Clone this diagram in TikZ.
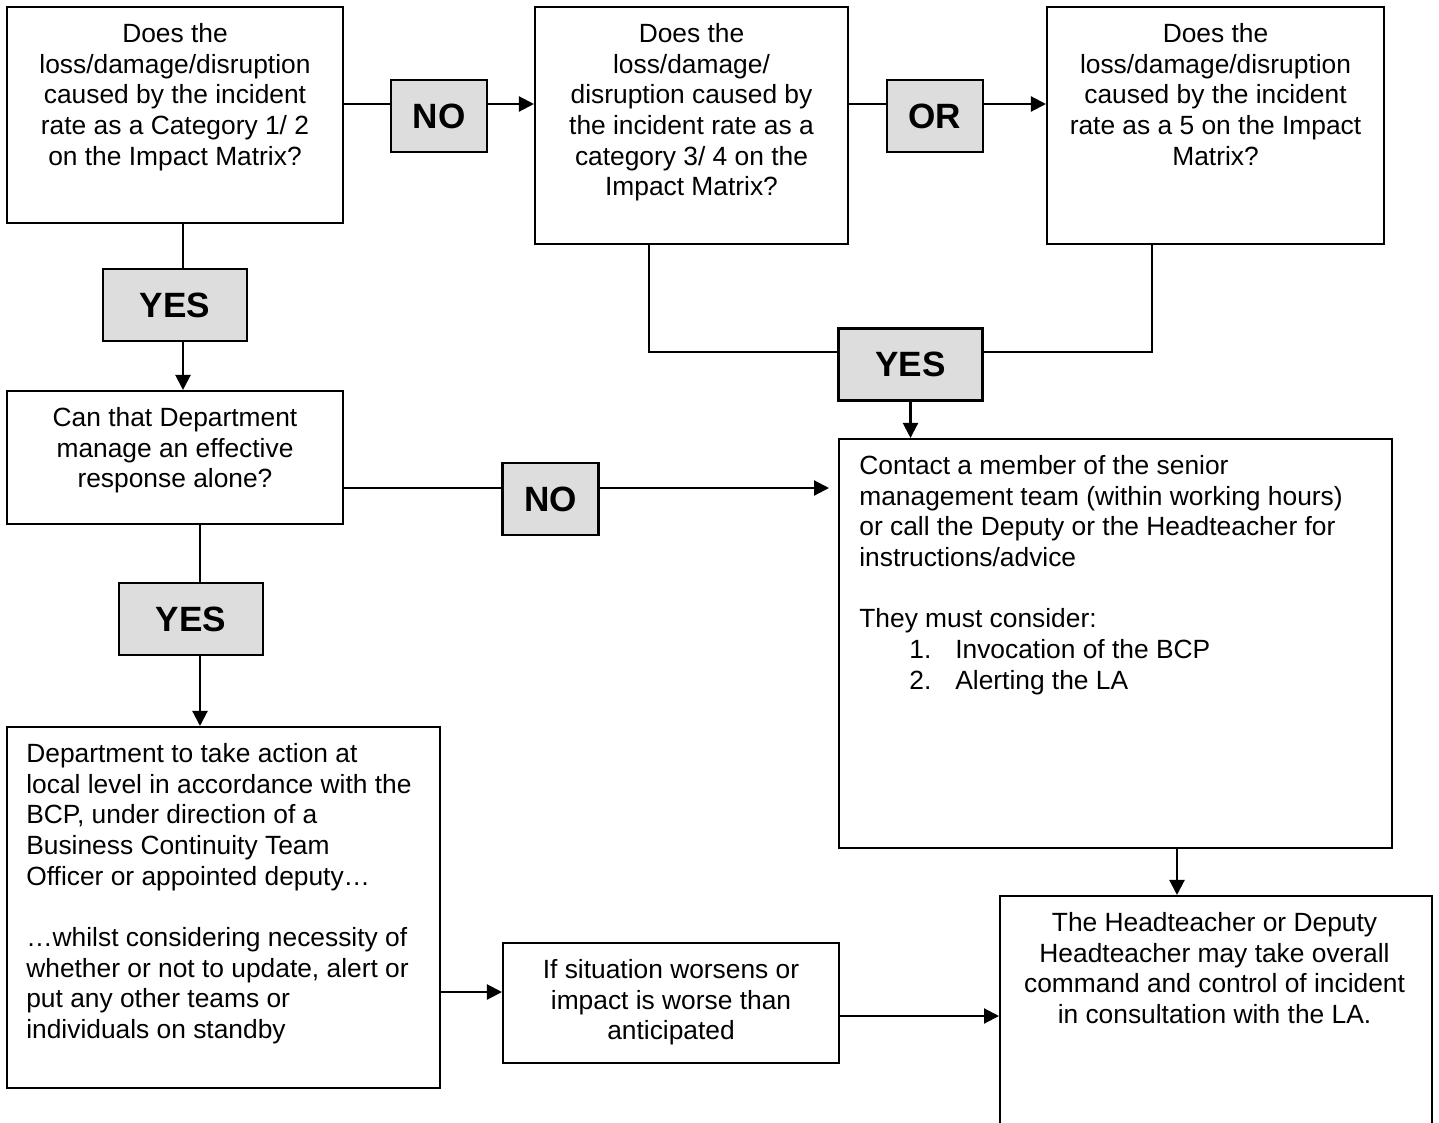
\documentclass[tikz,border=0pt]{standalone}
\usepackage{fontspec}
\setmainfont{Liberation Sans}
\usetikzlibrary{arrows.meta}
\definecolor{answergray}{HTML}{DDDDDD}

\begin{document}
\begin{tikzpicture}[x=0.02cm,y=-0.02cm,
  box/.style={draw, line width=1.2pt, inner sep=0pt},
  answer/.style={draw, fill=answergray, line width=1.2pt, minimum height=1.44cm,
    font=\fontsize{20}{24}\selectfont\bfseries},
  ctext/.style={inner sep=0pt, align=center, anchor=north, font=\fontsize{15}{17.45}\selectfont},
  ltext/.style={inner sep=0pt, align=left, anchor=north west, font=\fontsize{15}{17.45}\selectfont},
  link/.style={line width=1.2pt},
  arr/.style={link, -{Triangle[length=0.3cm,width=0.3cm]}}]
\def\dy{0.34cm}  % text below box top
\clip (0,0) rectangle (1439,1122);

% question boxes, top row
\node[box, minimum width=6.72cm, minimum height=4.32cm] (qa) at (175,115) {};
\node[box, minimum width=6.26cm, minimum height=4.74cm] (qb) at (691.5,125.5) {};
\node[box, minimum width=6.74cm, minimum height=4.74cm] (qc) at (1215.5,125.5) {};
\node[ctext] (qat) at ([yshift=-\dy]qa.north) {Does the\\ loss/damage/disruption\\ caused by the incident\\ rate as a Category 1/ 2\\ on the Impact Matrix?};
\node[ctext] (qbt) at ([yshift=-\dy]qb.north) {Does the\\ loss/damage/\\ disruption caused by\\ the incident rate as a\\ category 3/ 4 on the\\ Impact Matrix?};
\node[ctext] (qct) at ([yshift=-\dy]qc.north) {Does the\\ loss/damage/disruption\\ caused by the incident\\ rate as a 5 on the Impact\\ Matrix?};

% answer boxes
\node[answer, minimum width=1.92cm] (no1) at (439,116) {NO};
\node[answer, minimum width=1.92cm] (orbox) at (935,116) {OR};
\node[answer, minimum width=2.88cm] (yes1) at (175,305) {YES};
\node[answer, minimum width=2.88cm] (yes2) at (910.5,364.5) {YES};
\node[answer, minimum width=1.92cm] (no2) at (550.5,499) {NO};
\node[answer, minimum width=2.88cm] (yes3) at (191,619) {YES};

% lower boxes
\node[box, minimum width=6.72cm, minimum height=2.66cm] (qd) at (175,457.5) {};
\node[ctext] (qdt) at ([yshift=-\dy]qd.north) {Can that Department\\ manage an effective\\ response alone?};
\node[box, minimum width=11.06cm, minimum height=8.18cm] (qe) at (1115.5,643.5) {};
\node[ltext] (qet) at ([xshift=0.42cm,yshift=-\dy]qe.north west) {Contact a member of the senior\\ management team (within working hours)\\ or call the Deputy or the Headteacher for\\ instructions/advice\\[17.45pt] They must consider:\\ \hspace*{1cm}\makebox[0.92cm][l]{1.}Invocation of the BCP\\ \hspace*{1cm}\makebox[0.92cm][l]{2.}Alerting the LA};
\node[box, minimum width=8.66cm, minimum height=7.22cm] (qf) at (223.5,907.5) {};
\node[ltext] (qft) at ([xshift=0.4cm,yshift=-\dy]qf.north west) {Department to take action at\\ local level in accordance with the\\ BCP, under direction of a\\ Business Continuity Team\\ Officer or appointed deputy…\\[17.45pt] …whilst considering necessity of\\ whether or not to update, alert or\\ put any other teams or\\ individuals on standby};
\node[box, minimum width=6.72cm, minimum height=2.4cm] (qg) at (671,1003) {};
\node[ctext] (qgt) at ([yshift=-\dy]qg.north) {If situation worsens or\\ impact is worse than\\ anticipated};
\node[box, minimum width=8.64cm, minimum height=4.88cm] (qh) at (1216,1018) {};
\node[ctext] (qht) at ([xshift=-0.03cm,yshift=-\dy]qh.north) {The Headteacher or Deputy\\ Headteacher may take overall\\ command and control of incident\\ in consultation with the LA.};

% connectors
\coordinate (n1in) at ([yshift=0.24cm]no1.west);
\draw[link] (qa.east |- n1in) -- (n1in);
\draw[arr] (no1.east |- n1in) -- (qb.west |- n1in);
\coordinate (orin) at ([yshift=0.24cm]orbox.west);
\draw[link] (qb.east |- orin) -- (orin);
\draw[arr] (orbox.east |- orin) -- (qc.west |- orin);
\coordinate (y1top) at ([xshift=0.16cm]yes1.north);
\draw[link] (qa.south -| y1top) -- (y1top);
\draw[arr] (yes1.south -| y1top) -- (qd.north -| y1top);
\coordinate (n2in) at ([yshift=0.22cm]no2.west);
\draw[link] (qd.east |- n2in) -- (n2in);
\draw[arr, shorten >=0.18cm] (no2.east |- n2in) -- (qe.west |- n2in);
\coordinate (bdrop) at ([xshift=-0.85cm]qb.south);
\coordinate (cdrop) at ([xshift=-1.27cm]qc.south);
\coordinate (y2in) at ([yshift=0.25cm]yes2.west);
\draw[link] (bdrop) |- (y2in);
\draw[link] (cdrop) |- (yes2.east |- y2in);
\draw[arr] (yes2.south) -- (qe.north -| yes2.south);
\coordinate (y3top) at ([xshift=0.18cm]yes3.north);
\draw[link] (qd.south -| y3top) -- (y3top);
\draw[arr] (yes3.south -| y3top) -- (qf.north -| y3top);
\coordinate (gin) at ([yshift=0.22cm]qg.west);
\draw[arr] (qf.east |- gin) -- (gin);
\coordinate (gout) at ([yshift=-0.26cm]qg.east);
\draw[arr] (gout) -- (qh.west |- gout);
\coordinate (edrop) at ([xshift=1.23cm]qe.south);
\draw[arr] (edrop) -- (qh.north -| edrop);
\end{tikzpicture}
\end{document}
